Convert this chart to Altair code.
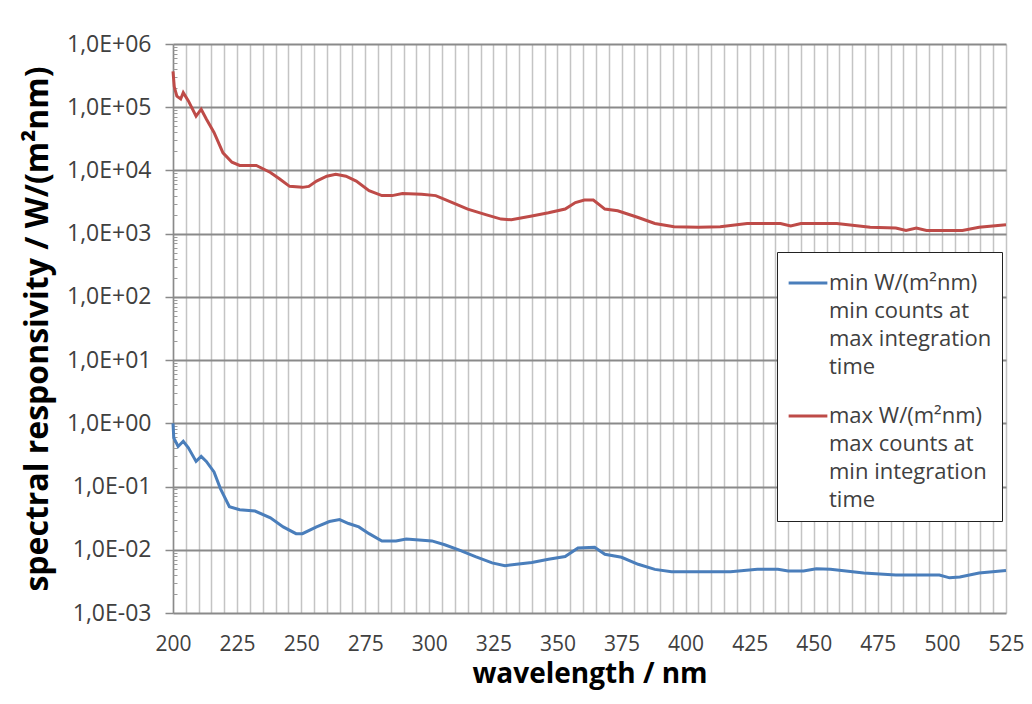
import altair as alt
import pandas as pd

# ---- data ----
red_nm = [200, 200.5, 201.5, 203, 204, 206, 209, 211, 213, 216, 219.5, 223, 226, 232.5, 238, 241.5,
          245.5, 250.5, 253, 256, 260, 263.5, 267.5, 271.5, 276.5, 281.5, 285.5, 289.5, 297, 302.5,
          309, 315, 322, 328, 332, 340, 346.5, 353, 357, 360.5, 364, 368.5, 373.5, 381.5, 388, 395.5,
          405, 413.5, 424, 437, 441, 445, 459, 472, 482, 486, 490, 494, 508, 514.5, 525]
red_val = [3.7e5, 2.1e5, 1.5e5, 1.35e5, 1.7e5, 1.26e5, 7.2e4, 9.3e4, 6.5e4, 4.0e4, 1.9e4, 1.35e4,
           1.2e4, 1.2e4, 9.3e3, 7.4e3, 5.6e3, 5.4e3, 5.6e3, 6.8e3, 8.1e3, 8.7e3, 8.1e3, 6.8e3, 4.8e3,
           4.0e3, 4.0e3, 4.3e3, 4.2e3, 4.0e3, 3.1e3, 2.45e3, 2.0e3, 1.7e3, 1.66e3, 1.9e3, 2.14e3,
           2.45e3, 3.1e3, 3.4e3, 3.4e3, 2.45e3, 2.3e3, 1.8e3, 1.45e3, 1.29e3, 1.26e3, 1.29e3, 1.45e3,
           1.45e3, 1.32e3, 1.45e3, 1.45e3, 1.26e3, 1.23e3, 1.12e3, 1.23e3, 1.12e3, 1.12e3, 1.26e3, 1.38e3]

blue_nm = [200, 200.3, 202, 204, 206, 209, 211, 213, 216, 218.5, 222, 226, 232, 238, 243, 248, 250.5,
           256, 261, 265, 268.5, 272.5, 276.5, 281.5, 287, 291, 301, 306, 311.5, 318, 324.5, 329.5,
           334, 340, 346.5, 353, 358, 364.5, 368.5, 375, 381.5, 388, 394.5, 417.5, 428, 436, 440, 446,
           451, 456.5, 469.5, 482, 499, 503, 507, 514.5, 525]
blue_val = [1.0, 0.59, 0.43, 0.52, 0.41, 0.25, 0.30, 0.25, 0.17, 0.093, 0.048, 0.043, 0.041, 0.032,
            0.023, 0.018, 0.018, 0.023, 0.028, 0.030, 0.026, 0.023, 0.018, 0.0138, 0.0138, 0.0148,
            0.0138, 0.012, 0.010, 0.0078, 0.0062, 0.0056, 0.0059, 0.0063, 0.0071, 0.0078, 0.0107,
            0.011, 0.0085, 0.0076, 0.0059, 0.0049, 0.0045, 0.0045, 0.0049, 0.0049, 0.0046, 0.0046,
            0.0050, 0.0049, 0.0043, 0.0040, 0.0040, 0.0036, 0.0037, 0.0043, 0.0047]

series_names = ["min W/(m²nm)|min counts at|max integration|time",
                "max W/(m²nm)|max counts at|min integration|time"]
series_colors = ["#4a7ebb", "#be4b48"]

y_major = [1e-3, 1e-2, 1e-1, 1e0, 1e1, 1e2, 1e3, 1e4, 1e5, 1e6]
y_minor = [m * 10.0 ** k for k in range(-3, 6) for m in range(2, 10)]
x_grid = list(range(200, 526, 5))

df = pd.concat([
    pd.DataFrame({"wl": blue_nm, "v": blue_val, "s": series_names[0]}),
    pd.DataFrame({"wl": red_nm, "v": red_val, "s": series_names[1]}),
])

FONT = "Open Sans"

xenc = alt.X("wl:Q", scale=alt.Scale(domain=[200, 525], nice=False, zero=False),
             axis=alt.Axis(values=x_grid, labelExpr="datum.value % 25 == 0 ? datum.label : ''",
                           title="wavelength / nm", ticks=False, domain=False, labelFlush=False,
                           grid=True, gridColor="#c4c4c4", gridWidth=1.5,
                           labelFontSize=21, labelColor="#404040", labelPadding=20,
                           labelFont=FONT, titleFont=FONT, titleFontSize=28,
                           titleFontWeight="bold", titleColor="#000000", titlePadding=6))

yscale = alt.Scale(type="log", domain=[1e-3, 1e6], nice=False)

main = alt.Chart(df).mark_line(strokeWidth=3).encode(
    x=xenc,
    y=alt.Y("v:Q", scale=yscale,
            axis=alt.Axis(values=y_major, orient="left",
                          labelExpr="'1,0E' + (round(log(datum.value)/LN10) < 0 ? '-' : '+') + (abs(round(log(datum.value)/LN10)) < 10 ? '0' : '') + abs(round(log(datum.value)/LN10))",
                          title="spectral responsivity / W/(m²nm)",
                          grid=True, gridColor="#8a8a8a", gridWidth=2,
                          domain=True, domainColor="#8a8a8a", domainWidth=1.5,
                          ticks=True, tickSize=8, tickColor="#8a8a8a", tickWidth=1.5,
                          labelFontSize=23, labelColor="#404040", labelPadding=14,
                          labelFont=FONT, titleFont=FONT, titleFontSize=32,
                          titleFontWeight="bold", titleColor="#000000", titlePadding=12)),
    color=alt.Color("s:N", scale=alt.Scale(domain=series_names, range=series_colors),
                    legend=alt.Legend(title=None, orient="none", legendX=604, legendY=208,
                                      symbolType="stroke", symbolSize=1500, symbolStrokeWidth=3,
                                      labelExpr="split(datum.label, '|')", labelFontSize=22,
                                      labelFont=FONT, labelColor="#404040", labelLimit=400,
                                      labelBaseline="middle", labelOffset=0, rowPadding=17,
                                      strokeColor="#222222", fillColor="#ffffff", padding=10)),
)

minor = alt.Chart(df).mark_line(strokeOpacity=0).encode(
    x=xenc,
    y=alt.Y("v:Q", scale=yscale,
            axis=alt.Axis(values=y_minor, orient="left", offset=-4, labels=False, title=None,
                          grid=False, domain=False, ticks=True, tickSize=4,
                          tickColor="#9a9a9a", tickWidth=1)),
    detail="s:N",
)

chart = alt.layer(main, minor).resolve_axis(y="independent").properties(
    width=833, height=569,
    autosize=alt.AutoSizeParams(type="none"),
    padding={"left": 165, "top": 36, "right": 18, "bottom": 83},
    background="#ffffff",
).configure(
    style={"guide-label": {"lineHeight": 28}}
).configure_view(strokeWidth=0)

chart.save("out.html", embed_options={"renderer": "svg", "actions": False})
